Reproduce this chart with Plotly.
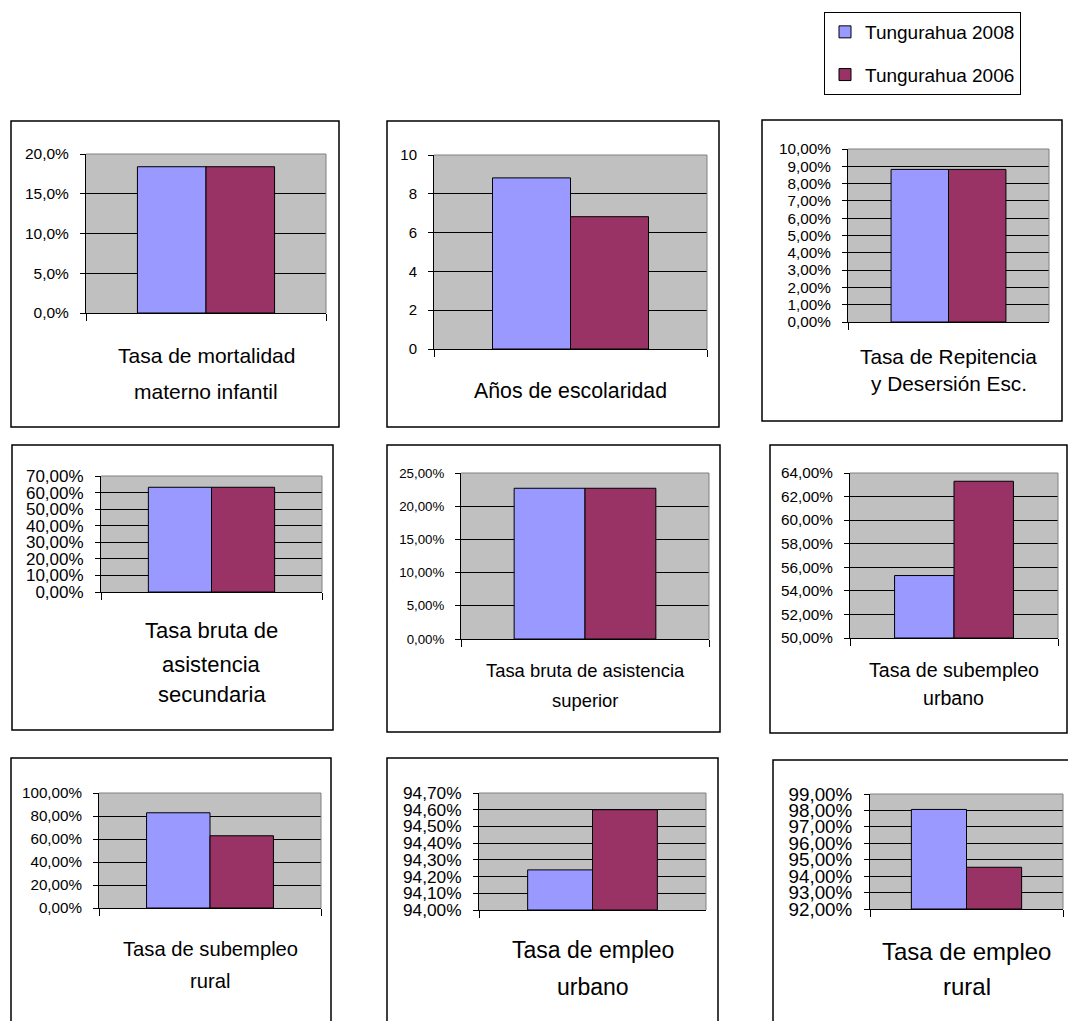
import plotly.graph_objects as go

W, H = 1068, 1021

# ---- data -------------------------------------------------------------
indicadores = [
    ["Tasa de mortalidad", "materno infantil"],
    ["Años de escolaridad"],
    ["Tasa de Repitencia", "y Desersión Esc."],
    ["Tasa bruta de", "asistencia", "secundaria"],
    ["Tasa bruta de asistencia", "superior"],
    ["Tasa de subempleo", "urbano"],
    ["Tasa de subempleo", "rural"],
    ["Tasa de empleo", "urbano"],
    ["Tasa de empleo", "rural"],
]
series = ["Tungurahua 2008", "Tungurahua 2006"]
valores_2008 = [18.4, 8.82, 8.82, 63.2, 22.7, 55.3, 82.8, 94.24, 98.06]
valores_2006 = [18.4, 6.82, 8.82, 63.2, 22.7, 63.3, 62.8, 94.60, 94.54]

eje_min = [0, 0, 0, 0, 0, 50, 0, 94.0, 92]
eje_max = [20, 10, 10, 70, 25, 64, 100, 94.7, 99]
eje_paso = [5, 2, 1, 10, 5, 2, 20, 0.1, 1]
eje_formato = [".1f", ".0f", ".2f", ".2f", ".2f", ".2f", ".2f", ".2f", ".2f"]
eje_sufijo = ["%", "", "%", "%", "%", "%", "%", "%", "%"]

# ---- styling ----------------------------------------------------------
COLORES = ["#9999FF", "#993366"]
FONDO = "#C0C0C0"
FUENTE = "Liberation Sans, Arial, sans-serif"

# panel geometry in pixels: frame box, plot area, label line centres, fonts
paneles = [
    dict(box=(11, 121, 339, 427), area=(86, 154, 326, 313), tick=15.5,
         cat_size=21, cat_y=(355, 392)),
    dict(box=(387, 121, 719, 427), area=(434, 155, 707, 349), tick=15,
         cat_size=21.3, cat_y=(391,)),
    dict(box=(762, 120, 1062, 421), area=(848, 149, 1049, 322), tick=15.3,
         cat_size=20.8, cat_y=(356, 383)),
    dict(box=(12, 445, 333, 730), area=(101, 476, 322, 592), tick=17,
         cat_size=22, cat_y=(630, 664, 694)),
    dict(box=(387, 445, 720, 732), area=(461, 473, 709, 639), tick=13.3,
         cat_size=18.4, cat_y=(670, 700)),
    dict(box=(770, 445, 1067, 733), area=(850, 473, 1058, 638), tick=15.3,
         cat_size=19.6, cat_y=(670, 698)),
    dict(box=(11, 758, 331, 1030), area=(99, 793, 321, 908), tick=15.2,
         cat_size=20.2, cat_y=(949, 981)),
    dict(box=(387, 758, 718, 1030), area=(479, 793, 706, 910), tick=17.3,
         cat_size=23, cat_y=(950, 987)),
    dict(box=(773, 760, 1080, 1030), area=(870, 794, 1063, 909), tick=18.8,
         cat_size=24, cat_y=(951, 986)),
]


def px_x(v):
    return v / W


def px_y(v):
    return 1 - v / H


fig = go.Figure()
shapes = []
annotations = []
layout_axes = {}

for i, p in enumerate(paneles):
    sfx = "" if i == 0 else str(i + 1)
    xa, ya = "x" + sfx, "y" + sfx
    categoria = " ".join(indicadores[i])
    for s, (nombre, vals) in enumerate(zip(series, [valores_2008, valores_2006])):
        # bars rise from the axis minimum up to the value
        fig.add_trace(go.Bar(
            x=[categoria], y=[vals[i] - eje_min[i]], base=eje_min[i],
            name=nombre, xaxis=xa, yaxis=ya,
            marker=dict(color=COLORES[s], line=dict(color="black", width=1)),
            legendgroup=nombre, showlegend=(i == 0),
            hovertemplate=nombre + ": %{customdata}<extra></extra>",
            customdata=[vals[i]],
        ))

    l, t, r, b = p["area"]
    layout_axes["xaxis" + sfx] = dict(
        domain=[px_x(l), px_x(r)], anchor=ya, type="category",
        showline=True, linecolor="black", linewidth=1,
        ticks="outside", tickson="boundaries", ticklen=7, tickcolor="black",
        showgrid=False, showticklabels=False, fixedrange=True, automargin=False,
    )
    layout_axes["yaxis" + sfx] = dict(
        domain=[px_y(b), px_y(t)], anchor=xa,
        range=[eje_min[i], eje_max[i]],
        tickmode="linear", tick0=eje_min[i], dtick=eje_paso[i],
        tickformat=eje_formato[i], ticksuffix=eje_sufijo[i],
        showline=True, linecolor="black", linewidth=1,
        ticks="outside", ticklen=5, tickcolor="black",
        showgrid=True, gridcolor="black", gridwidth=1, zeroline=False,
        tickfont=dict(family=FUENTE, size=p["tick"], color="black"),
        ticklabelstandoff=8, fixedrange=True, automargin=False,
    )

    # category name under the bars, one line at a time
    for linea, yc in zip(indicadores[i], p["cat_y"]):
        annotations.append(dict(
            xref=xa, yref="paper", x=categoria, y=px_y(yc),
            text=linea, showarrow=False, xanchor="center", yanchor="middle",
            font=dict(family=FUENTE, size=p["cat_size"], color="black"),
        ))

    # grey top and right edge of the plot area
    shapes.append(dict(type="line", xref=xa + " domain", yref=ya + " domain",
                       x0=0, x1=1, y0=1, y1=1, line=dict(color="#808080", width=1)))
    shapes.append(dict(type="line", xref=xa + " domain", yref=ya + " domain",
                       x0=1, x1=1, y0=0, y1=1, line=dict(color="#808080", width=1)))
    # frame around each chart
    bl, bt, br, bb = p["box"]
    shapes.append(dict(type="rect", xref="paper", yref="paper",
                       x0=px_x(bl), x1=px_x(br), y0=px_y(bb), y1=px_y(bt),
                       line=dict(color="black", width=1.5), fillcolor="rgba(0,0,0,0)"))

fig.update_layout(
    width=W, height=H, autosize=False,
    margin=dict(l=0, r=0, t=0, b=0, pad=0, autoexpand=False),
    paper_bgcolor="white", plot_bgcolor=FONDO,
    separators=",.",
    barmode="group", bargap=0.4286, bargroupgap=0,
    font=dict(family=FUENTE, color="black"),
    shapes=shapes, annotations=annotations,
    legend=dict(
        x=px_x(1021), xanchor="right", y=px_y(12), yanchor="top",
        bordercolor="black", borderwidth=1, bgcolor="white",
        font=dict(family=FUENTE, size=19, color="black"),
        traceorder="grouped", tracegroupgap=15,
    ),
    **layout_axes,
)

fig.write_html("out.html")
